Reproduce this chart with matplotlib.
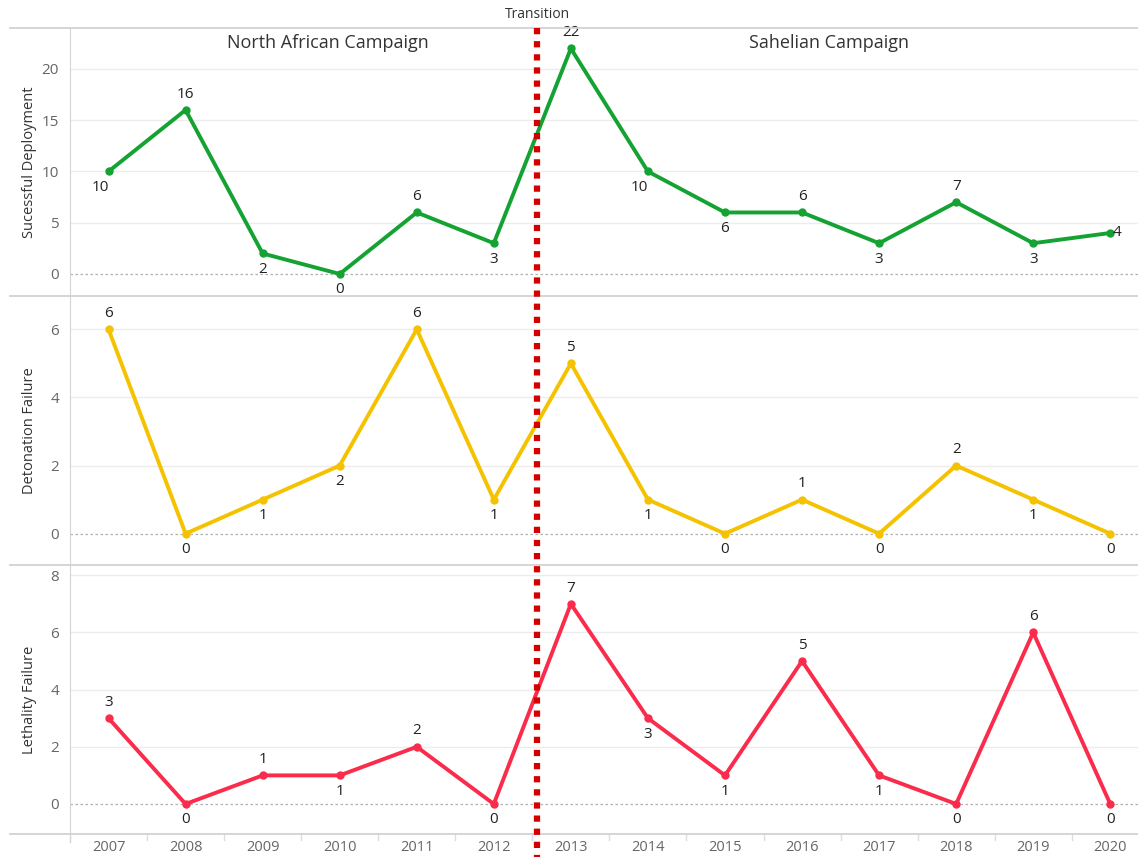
import matplotlib
matplotlib.use("Agg")
import matplotlib.pyplot as plt
import numpy as np

years = [str(y) for y in range(2007, 2021)]
successful = [10, 16, 2, 0, 6, 3, 22, 10, 6, 6, 3, 7, 3, 4]
detonation = [6, 0, 1, 2, 6, 1, 5, 1, 0, 1, 0, 2, 1, 0]
lethality = [3, 0, 1, 1, 2, 0, 7, 3, 1, 5, 1, 0, 6, 0]

succ_pos = ['bl', 'a', 'b', 'b', 'a', 'b', 'a', 'bl', 'b', 'a', 'b', 'a', 'b', 'r']
det_pos = ['a', 'b', 'b', 'b', 'a', 'b', 'a', 'b', 'b', 'a', 'b', 'a', 'b', 'b']
let_pos = ['a', 'b', 'a', 'b', 'a', 'b', 'a', 'b', 'b', 'a', 'b', 'b', 'a', 'b']

green = '#14a332'
yellow = '#f5c200'
red = '#fb2b4c'

plt.rcParams['font.family'] = ['Open Sans', 'DejaVu Sans']

W, H = 1138, 857
fig = plt.figure(figsize=(W / 100, H / 100), dpi=100)

left = 70 / W
right = 1.0
panels = [
    (28, 296, successful, green, 'Sucessful Deployment', (-2.15, 24), [0, 5, 10, 15, 20], succ_pos),
    (296, 565, detonation, yellow, 'Detonation Failure', (-0.92, 6.98), [0, 2, 4, 6], det_pos),
    (565, 834, lethality, red, 'Lethality Failure', (-1.05, 8.36), [0, 2, 4, 6, 8], let_pos),
]

x = np.arange(len(years))
xlim = (-0.5, 13.36)
axes = []
for i, (top, bot, vals, col, lab, ylim, yt, pos) in enumerate(panels):
    ax = fig.add_axes([left, 1 - bot / H, right - left, (bot - top) / H])
    axes.append(ax)
    ax.set_xlim(*xlim)
    ax.set_ylim(*ylim)
    ax.set_yticks(yt)
    ax.set_yticklabels([str(v) for v in yt], color='#666666', fontsize=11)
    ax.tick_params(axis='y', length=0, pad=8)
    for t in yt:
        if t != 0:
            ax.axhline(t, color='#ececec', lw=1, zorder=0)
    ax.axhline(0, color='#b0b0b0', lw=0.9, ls=(0, (2, 2)), zorder=1)
    for s in ['top', 'right', 'bottom']:
        ax.spines[s].set_visible(False)
    ax.spines['left'].set_color('#d4d4d4')
    ax.set_ylabel(lab, fontsize=10.5, color='#333333')
    ax.yaxis.set_label_coords(-33 / (W - 70), 0.5)
    ax.plot(x, vals, color=col, lw=2.8, marker='o', ms=5, zorder=3, solid_joinstyle='round')
    for xi, v, p in zip(x, vals, pos):
        if p == 'a':
            ax.annotate(str(v), (xi, v), xytext=(0, 6), textcoords='offset points',
                        ha='center', va='bottom', fontsize=11, color='#222222')
        elif p == 'b':
            ax.annotate(str(v), (xi, v), xytext=(0, -6), textcoords='offset points',
                        ha='center', va='top', fontsize=11, color='#222222')
        elif p == 'bl':
            ax.annotate(str(v), (xi, v), xytext=(-6, -6), textcoords='offset points',
                        ha='center', va='top', fontsize=11, color='#222222')
        elif p == 'r':
            ax.annotate(str(v), (xi, v), xytext=(2, 0), textcoords='offset points',
                        ha='left', va='center', fontsize=11, color='#222222')
    if i < 2:
        ax.set_xticks([])
    else:
        ax.set_xticks(x)
        ax.set_xticklabels(years, color='#666666', fontsize=10.5)
        ax.tick_params(axis='x', length=0, pad=4)
        for b in np.arange(0.5, 13.5, 1.0):
            ax.plot([b, b], [0, -0.022], transform=ax.get_xaxis_transform(),
                    color='#dddddd', lw=1, clip_on=False)

# horizontal separators spanning full width
for yy in [28, 296, 565, 834]:
    fig.add_artist(plt.Line2D([10 / W, 1.0], [1 - yy / H, 1 - yy / H], color='#d2d2d2', lw=1.3))
# left spine extension at bottom
fig.add_artist(plt.Line2D([left, left], [1 - 834 / H, 1 - 842 / H], color='#d4d4d4', lw=1))

# Transition line
trans_x = 5.56
xf = left + (trans_x - xlim[0]) / (xlim[1] - xlim[0]) * (right - left)
fig.add_artist(plt.Line2D([xf, xf], [1 - 28 / H, 0.0], color='#d40000', lw=4.5,
                          ls=(0, (1, 1.1)), dash_capstyle='butt', zorder=10))
fig.text(xf, 1 - 15 / H, 'Transition', ha='center', va='center', fontsize=10, color='#333333')

axes[0].text(2.85, 22.5, 'North African Campaign', ha='center', va='center', fontsize=13, color='#333333')
axes[0].text(9.35, 22.5, 'Sahelian Campaign', ha='center', va='center', fontsize=13, color='#333333')

fig.savefig('out.png', dpi=100, facecolor='white')
